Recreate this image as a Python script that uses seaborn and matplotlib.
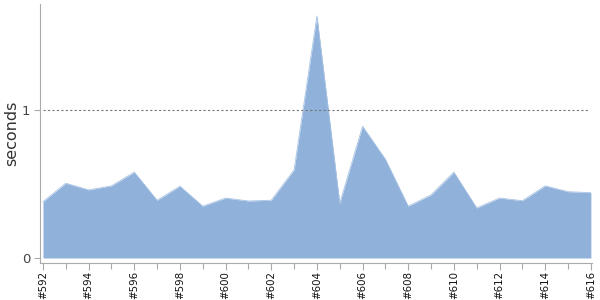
import matplotlib
matplotlib.use("Agg")
import matplotlib.pyplot as plt
import seaborn as sns
import pandas as pd
from matplotlib.ticker import MultipleLocator

builds = list(range(592, 617))
seconds = [0.38, 0.505, 0.46, 0.487, 0.58, 0.39, 0.485, 0.35, 0.405, 0.385,
           0.39, 0.595, 1.635, 0.37, 0.89, 0.667, 0.35, 0.426, 0.58, 0.338,
           0.405, 0.387, 0.487, 0.448, 0.441]
labels = ["#%d" % b for b in builds]

df = pd.DataFrame({"idx": range(len(builds)), "seconds": seconds})

sns.set_style("white")
fig = plt.figure(figsize=(6, 3), dpi=100)
ax = fig.add_axes([40/600, 37/300, 592/600 - 40/600, (263 - 4)/300])

fill_color = "#8FB1DA"
ax.fill_between(df["idx"], 0, df["seconds"], color=fill_color, linewidth=0)
sns.lineplot(data=df, x="idx", y="seconds", ax=ax, color="#A8C3E4", linewidth=0.6)

ax.axhline(1, color="#777777", linestyle=(0, (2, 2)), linewidth=0.8, xmin=0.005, xmax=0.995)

ax.set_xlim(-0.13, 24.05)
ax.set_ylim(-0.034, 1.716)

ax.set_xticks(range(0, 25, 2))
ax.set_xticklabels(labels[::2], rotation=90, fontsize=7.4, color="#111111")
ax.xaxis.set_minor_locator(MultipleLocator(1))
ax.tick_params(axis="x", which="major", length=5, color="#aaaaaa", width=0.8, pad=1, bottom=True)
ax.tick_params(axis="x", which="minor", length=4, color="#aaaaaa", width=0.8, bottom=True)

ax.set_yticks([0, 1])
ax.set_yticklabels(["0", "1"], fontsize=9.5, color="#444444")
ax.tick_params(axis="y", length=4, color="#aaaaaa", width=0.8, left=True, pad=3)

ax.set_xlabel("")
ax.set_ylabel("seconds", fontsize=11.5, color="#333333", labelpad=2)

for s in ["top", "right"]:
    ax.spines[s].set_visible(False)
for s in ["left", "bottom"]:
    ax.spines[s].set_color("#aaaaaa")
    ax.spines[s].set_linewidth(0.8)

fig.savefig("out.png", dpi=100)
